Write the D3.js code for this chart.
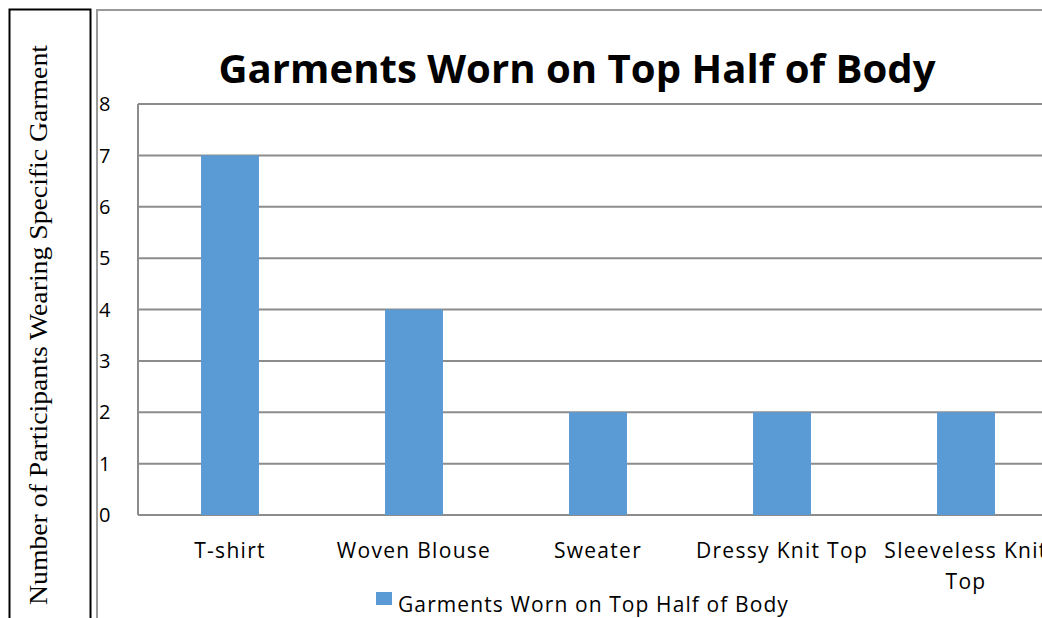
<!DOCTYPE html>
<html><head><meta charset="utf-8">
<script src="https://cdn.jsdelivr.net/npm/d3@7"></script>
<style>body{margin:0;background:#fff}svg{display:block}</style>
</head><body>
<svg id="c" width="1042" height="618"></svg>
<script>
const categories = ["T-shirt", "Woven Blouse", "Sweater", "Dressy Knit Top", "Sleeveless Knit Top"];
const values = [7, 4, 2, 2, 2];
const yTicks = [0, 1, 2, 3, 4, 5, 6, 7, 8];
const seriesName = "Garments Worn on Top Half of Body";
const titleText = "Garments Worn on Top Half of Body";
const yLabel = "Number of Participants Wearing Specific Garment";

const svg = d3.select("#c");
const plot = {left: 138, top: 104, right: 1058, bottom: 515};

// outer left box
svg.append("rect").attr("x", 9.5).attr("y", 9.5).attr("width", 81).attr("height", 640)
  .attr("fill", "none").attr("stroke", "#000").attr("stroke-width", 2);
svg.append("text").attr("transform", "translate(47,325) rotate(-90)")
  .attr("text-anchor", "middle").attr("font-family", "Liberation Serif, serif")
  .attr("font-size", 26).attr("fill", "#000")
  .attr("textLength", 560).attr("lengthAdjust", "spacingAndGlyphs").text(yLabel);

// chart area border
svg.append("rect").attr("x", 97).attr("y", 10).attr("width", 1000).attr("height", 700)
  .attr("fill", "#fff").attr("stroke", "#9a9a9a").attr("stroke-width", 2);

const x = d3.scaleBand().domain(categories).range([plot.left, plot.right]).paddingInner(0.685).paddingOuter(0.3425);
const y = d3.scaleLinear().domain([0, 8]).range([plot.bottom, plot.top]);

// gridlines
svg.append("g").selectAll("line").data(yTicks).join("line")
  .attr("x1", plot.left).attr("x2", plot.right)
  .attr("y1", d => y(d)).attr("y2", d => y(d))
  .attr("stroke", "#8c8c8c").attr("stroke-width", 2);
svg.append("line").attr("x1", plot.left).attr("x2", plot.left)
  .attr("y1", plot.top).attr("y2", plot.bottom).attr("stroke", "#8c8c8c").attr("stroke-width", 2);

// bars
svg.append("g").selectAll("rect").data(values).join("rect")
  .attr("x", (d, i) => x(categories[i])).attr("width", x.bandwidth())
  .attr("y", d => y(d)).attr("height", d => y(0) - y(d))
  .attr("fill", "#5b9bd5");

const font = "Open Sans, sans-serif";
// y ticks
svg.append("g").selectAll("text").data(yTicks).join("text")
  .attr("x", 99).attr("y", d => y(d)).attr("dy", "0.36em")
  .attr("font-family", font).attr("font-size", 20).attr("fill", "#000").text(d => d);

// x labels
const xl = svg.append("g").selectAll("text").data(categories).join("text")
  .attr("text-anchor", "middle").attr("font-family", font).attr("font-size", 21)
  .attr("letter-spacing", 1.3).attr("fill", "#000")
  .attr("transform", d => `translate(${x(d) + x.bandwidth()/2},558)`);
xl.each(function(d) {
  const t = d3.select(this);
  const lines = d === "Sleeveless Knit Top" ? ["Sleeveless Knit", "Top"] : [d];
  lines.forEach((l, i) => t.append("tspan").attr("x", 0).attr("y", i * 31).text(l));
});

// title
svg.append("text").attr("x", 577).attr("y", 83).attr("text-anchor", "middle")
  .attr("font-family", font).attr("font-weight", "bold").attr("font-size", 40).attr("fill", "#000")
  .attr("textLength", 717).attr("lengthAdjust", "spacingAndGlyphs")
  .text(titleText);

// legend
svg.append("rect").attr("x", 376).attr("y", 592).attr("width", 16).attr("height", 13).attr("fill", "#5b9bd5");
svg.append("text").attr("x", 398).attr("y", 612).attr("font-family", font).attr("font-size", 21)
  .attr("letter-spacing", 1.1).attr("fill", "#000").text(seriesName);
</script>
</body></html>
